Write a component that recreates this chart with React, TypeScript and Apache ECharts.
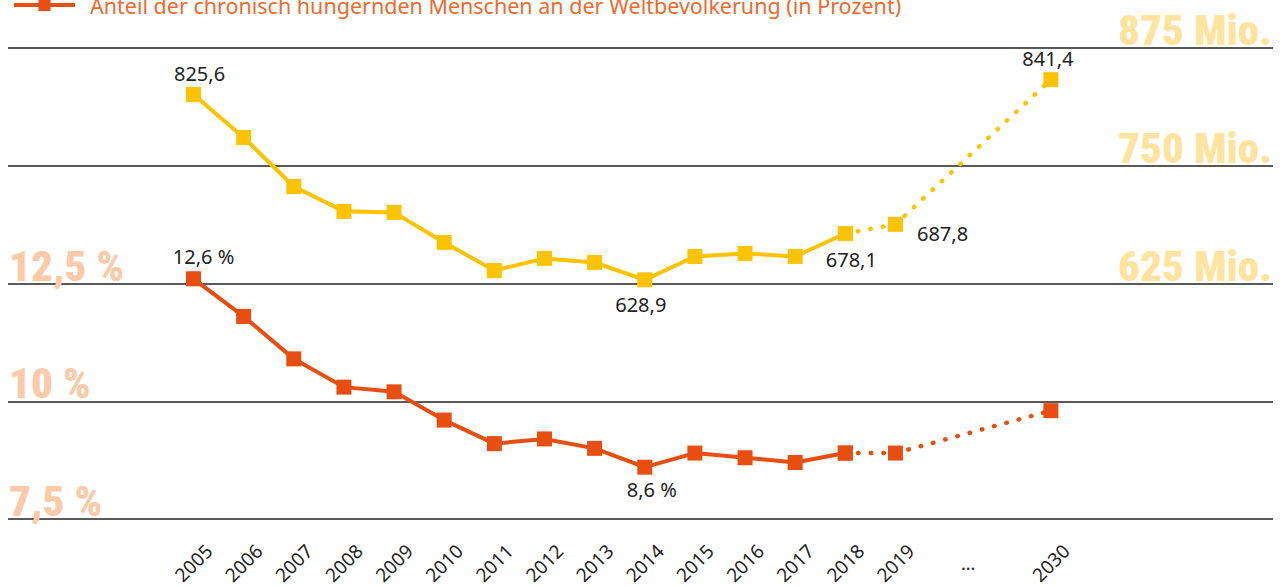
import React, { useEffect, useRef } from 'react';
import * as echarts from 'echarts';

// ---- data ----
const years = ['2005', '2006', '2007', '2008', '2009', '2010', '2011', '2012', '2013', '2014', '2015', '2016', '2017', '2018', '2019', '2030'];
const xIndex = [0, 1, 2, 3, 4, 5, 6, 7, 8, 9, 10, 11, 12, 13, 14, 17.1];
const hungerShare = [12.6, 11.8, 10.9, 10.3, 10.2, 9.6, 9.1, 9.2, 9.0, 8.6, 8.9, 8.8, 8.7, 8.9, 8.9, 9.8];
const hungerMillions = [825.6, 780.0, 728.0, 701.6, 700.5, 668.6, 638.8, 651.6, 647.3, 628.9, 653.7, 656.9, 653.7, 678.1, 687.8, 841.4];
const solidUntil = 13; // 2018 is the last observed value, after that projection (dotted)
const gapLabel = '...';
const gapIndex = 15.45;
const percentTicks = [7.5, 10, 12.5];
const millionTicks = [625, 750, 875];
const legendText = 'Anteil der chronisch hungernden Menschen an der Weltbevölkerung (in Prozent)';

// ---- styles ----
const RED = '#e84e0f';
const YELLOW = '#fdc300';
const TEXT = '#222222';
const BASE_FONT = "'Noto Sans', 'Open Sans', sans-serif";
const BIG_FONT = "'Roboto Condensed', 'Roboto', sans-serif";

const shareLabels: Record<number, any> = {
  0: { position: 'top', distance: 5, offset: [10, 0] },
  9: { position: 'bottom', distance: 5, offset: [7, 0] },
};
const millionLabels: Record<number, any> = {
  0: { position: 'top', distance: 4, offset: [6, 0] },
  9: { position: 'bottom', distance: 7, offset: [-4, 0] },
  13: { position: 'bottom', distance: 9, offset: [6, 0] },
  14: { position: 'right', distance: 14, offset: [0, 9] },
  15: { position: 'top', distance: 4, offset: [-3, 0] },
};

const fmt = (v: number) => v.toFixed(1).replace('.', ',');

function buildData(values: number[], from: number, to: number, labels: Record<number, any>, suffix: string, skipFirstLabel: boolean) {
  const out: any[] = [];
  for (let i = from; i <= to; i++) {
    const item: any = { value: [xIndex[i], values[i]] };
    if (labels[i] && !(skipFirstLabel && i === from)) {
      item.label = {
        show: true,
        formatter: () => fmt(values[i]) + suffix,
        ...labels[i],
      };
    }
    out.push(item);
  }
  return out;
}

export default function App() {
  const ref = useRef<HTMLDivElement>(null);

  useEffect(() => {
    if (!ref.current) return;
    const chart = echarts.init(ref.current, undefined, { renderer: 'svg' });

    const labelText = { color: TEXT, fontSize: 20, fontFamily: BASE_FONT };
    const lineSeries = (name: string, color: string, yAxisIndex: number, data: any[], dotted: boolean, z: number) => ({
      name,
      type: 'line',
      xAxisIndex: 0,
      yAxisIndex,
      data,
      z,
      symbol: 'rect',
      symbolSize: 15,
      showAllSymbol: true,
      itemStyle: { color },
      lineStyle: dotted
        ? { color, width: 4.5, type: [0.5, 12.2], cap: 'round' }
        : { color, width: 4 },
      label: { show: false, ...labelText },
      emphasis: { disabled: true },
    });

    const bigLabel = {
      inside: true,
      margin: 1,
      verticalAlign: 'bottom',
      lineHeight: 36,
      fontSize: 43,
      fontWeight: 900,
      fontFamily: BIG_FONT,
    };

    const option: any = {
      animation: false,
      backgroundColor: '#ffffff',
      grid: { left: 8, right: 10, top: 48, bottom: 68, containLabel: false, outerBoundsMode: 'none' },
      legend: {
        show: true,
        data: [legendText],
        left: 12,
        top: -6,
        padding: 0,
        itemWidth: 61,
        itemHeight: 15,
        lineStyle: { width: 4 },
        selectedMode: false,
        textStyle: { color: '#ef6a2e', fontSize: 21.5, fontFamily: BASE_FONT, lineHeight: 15, padding: [0, 0, 0, 10] },
      },
      xAxis: [
        {
          type: 'value',
          min: -3.7,
          max: 21.53,
          axisLine: { show: false },
          axisTick: { show: false },
          splitLine: { show: false },
          axisLabel: {
            customValues: xIndex,
            rotate: 45,
            align: 'center',
            verticalAlign: 'middle',
            margin: 44,
            lineHeight: 14,
            color: TEXT,
            fontSize: 19,
            fontFamily: BASE_FONT,
            formatter: (v: number) => {
              const k = xIndex.indexOf(v);
              return k >= 0 ? years[k] : '';
            },
          },
        },
        {
          type: 'value',
          position: 'bottom',
          min: -3.7,
          max: 21.53,
          axisLine: { show: false },
          axisTick: { show: false },
          splitLine: { show: false },
          axisLabel: {
            customValues: [gapIndex],
            align: 'center',
            verticalAlign: 'middle',
            margin: 44,
            color: TEXT,
            fontSize: 18,
            fontFamily: BASE_FONT,
            formatter: () => gapLabel,
          },
        },
      ],
      yAxis: [
        {
          type: 'value',
          position: 'left',
          min: 7.5,
          max: 17.5,
          interval: 2.5,
          axisLine: { show: false },
          axisTick: { show: false },
          splitLine: { show: true, lineStyle: { color: '#222', width: 1.5 } },
          axisLabel: {
            ...bigLabel,
            color: '#fbcaa8',
            formatter: (v: number) => (percentTicks.includes(v) ? String(v).replace('.', ',') + ' %' : ''),
          },
        },
        {
          type: 'value',
          position: 'right',
          min: 375,
          max: 875,
          interval: 125,
          axisLine: { show: false },
          axisTick: { show: false },
          splitLine: { show: false },
          axisLabel: {
            ...bigLabel,
            color: '#ffe39e',
            formatter: (v: number) => (millionTicks.includes(v) ? v + ' Mio.' : ''),
          },
        },
      ],
      series: [
        lineSeries(legendText, RED, 0, buildData(hungerShare, 0, solidUntil, shareLabels, ' %', false), false, 3),
        lineSeries('share-projection', RED, 0, buildData(hungerShare, solidUntil, years.length - 1, shareLabels, ' %', true), true, 2),
        lineSeries('millions', YELLOW, 1, buildData(hungerMillions, 0, solidUntil, millionLabels, '', false), false, 3),
        lineSeries('millions-projection', YELLOW, 1, buildData(hungerMillions, solidUntil, years.length - 1, millionLabels, '', true), true, 2),
      ],
    };

    chart.setOption(option);
    return () => chart.dispose();
  }, []);

  return (
    <div
      ref={ref}
      style={{ position: 'absolute', left: 0, top: 0, width: 1283, height: 587 }}
    />
  );
}
